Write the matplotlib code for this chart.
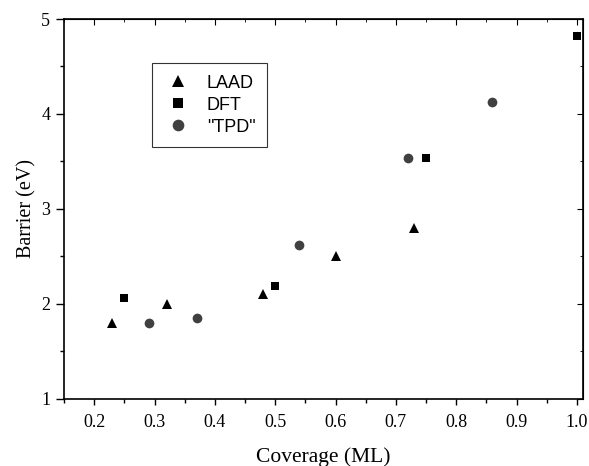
import matplotlib
import matplotlib.pyplot as plt
from matplotlib.ticker import MultipleLocator

matplotlib.use("Agg")

# data
laad_x = [0.23, 0.32, 0.48, 0.60, 0.73]
laad_y = [1.80, 2.00, 2.10, 2.50, 2.80]
dft_x = [0.25, 0.50, 0.75, 1.00]
dft_y = [2.06, 2.19, 3.54, 4.82]
tpd_x = [0.29, 0.37, 0.54, 0.72, 0.86]
tpd_y = [1.80, 1.85, 2.62, 3.54, 4.13]

serif = ["Liberation Serif", "DejaVu Serif"]
sans = ["Liberation Sans", "DejaVu Sans"]

fig = plt.figure(figsize=(5.89, 4.66), dpi=100)
ax = fig.add_axes([0.1087, 0.1444, 0.8811, 0.8148])

ax.plot(laad_x, laad_y, "^", color="black", ms=7.5, mew=0, label="LAAD")
ax.plot(dft_x, dft_y, "s", color="black", ms=6, mew=0, label="DFT")
ax.plot(tpd_x, tpd_y, "o", color="#404040", ms=7, mew=0, label='"TPD"')

ax.set_xlim(0.15, 1.01)
ax.set_ylim(1, 5)
ax.xaxis.set_major_locator(MultipleLocator(0.1))
ax.xaxis.set_minor_locator(MultipleLocator(0.05))
ax.yaxis.set_major_locator(MultipleLocator(1))
ax.yaxis.set_minor_locator(MultipleLocator(0.5))
ax.tick_params(axis="x", which="major", direction="out", length=4, width=1, pad=7, labelsize=13)
ax.tick_params(axis="y", which="major", direction="out", length=6, width=1, pad=4, labelsize=13)
ax.tick_params(which="minor", direction="out", length=3, width=1)
ax.xaxis.set_major_formatter(matplotlib.ticker.FormatStrFormatter("%.1f"))
for lab in ax.get_xticklabels() + ax.get_yticklabels():
    lab.set_family(serif)

# mirrored ticks on top and right
top = ax.secondary_xaxis("top")
top.xaxis.set_major_locator(MultipleLocator(0.1))
top.xaxis.set_minor_locator(MultipleLocator(0.05))
top.tick_params(which="major", direction="in", length=4, labeltop=False)
top.tick_params(which="minor", direction="in", length=2)
right = ax.secondary_yaxis("right")
right.yaxis.set_major_locator(MultipleLocator(1))
right.yaxis.set_minor_locator(MultipleLocator(0.5))
right.tick_params(which="major", direction="in", length=4, labelright=False)
right.tick_params(which="minor", direction="in", length=2)

for sp in ax.spines.values():
    sp.set_linewidth(1.2)

ax.set_xlabel("Coverage (ML)", family=serif, fontsize=15.5, labelpad=12)
ax.set_ylabel("Barrier (eV)", family=serif, fontsize=14.5, labelpad=3)

leg = ax.legend(loc="upper left", bbox_to_anchor=(0.169, 0.884), borderaxespad=0,
                frameon=True, fancybox=False, edgecolor="black",
                prop={"family": sans, "size": 13}, markerscale=1.2,
                handletextpad=0.8, borderpad=0.65, labelspacing=0.27, handlelength=1.6)
leg.get_frame().set_linewidth(0.8)

plt.savefig("out.png", dpi=100)
plt.close()
